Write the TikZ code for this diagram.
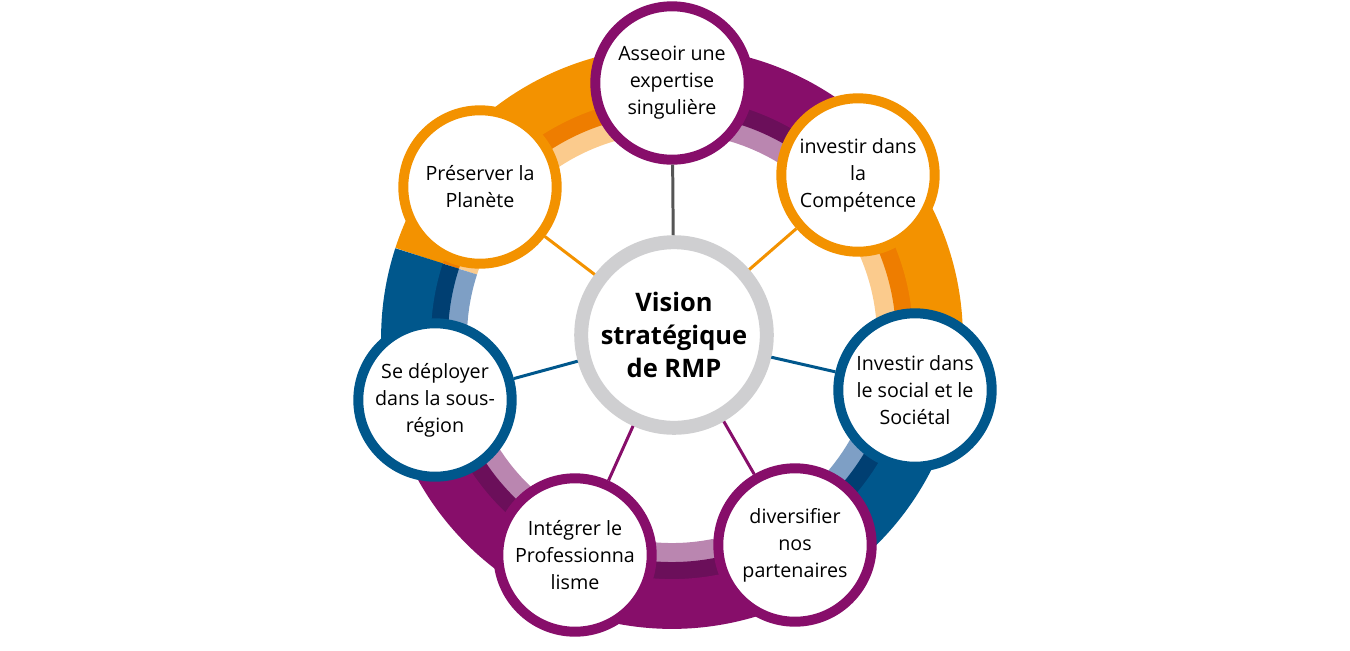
\documentclass[tikz,border=0pt]{standalone}
\usepackage{fontspec}
\setmainfont{Open Sans}
\usetikzlibrary{calc}
\begin{document}
\begin{tikzpicture}[x=0.02cm,y=0.02cm,
  sat/.style={circle,draw=#1,line width=10*0.567pt,fill=white,minimum size=154*0.567pt,inner sep=0pt,align=center,font=\fontsize{11.2}{15.4}\selectfont},
  link/.style={draw=#1,line width=3*0.567pt}]
\definecolor{oM}{HTML}{F39200}\definecolor{oD}{HTML}{EE7D00}\definecolor{oL}{HTML}{FBCB8D}
\definecolor{pM}{HTML}{870E6A}\definecolor{pD}{HTML}{6B0F5A}\definecolor{pL}{HTML}{BA86B0}
\definecolor{bM}{HTML}{00578C}\definecolor{bD}{HTML}{003F72}\definecolor{bL}{HTML}{7E9FC5}
\definecolor{gR}{HTML}{CFCFD1}\definecolor{gL}{HTML}{555555}
\useasboundingbox (0,0) rectangle (1350,-650);
\coordinate (rc) at (672,-338);
\foreach \a/\b/\c in {40/90/p,90/162/o,162/205/b,205/300/p,300/355/b,355/400/o}{
  \draw[\c L,line width=20*0.567pt] ($(rc)+(\a:215)$) arc[start angle=\a,end angle=\b,radius=215];
  \draw[\c D,line width=18*0.567pt] ($(rc)+(\a:233)$) arc[start angle=\a,end angle=\b,radius=233];
  \draw[\c M,line width=50*0.567pt] ($(rc)+(\a:266)$) arc[start angle=\a,end angle=\b,radius=266];
}
\node[circle,draw=gR,line width=14*0.567pt,fill=white,minimum size=186*0.567pt,align=center,font=\bfseries\fontsize{14.5}{18.8}\selectfont] (c) at (674,-335) {Vision\\stratégique\\de RMP};
\node[sat=pM] (t) at (672,-83) {Asseoir une\\expertise\\singulière};
\node[sat=oM] (ur) at (858,-175) {investir dans\\la\\Compétence};
\node[sat=bM] (r) at (915,-390) {Investir dans\\le social et le\\Sociétal};
\node[sat=pM] (lr) at (795,-545) {diversifier\\nos\\partenaires};
\node[sat=pM] (ll) at (575,-555) {Intégrer le\\Professionna\\lisme};
\node[sat=bM] (l) at (435,-400) {Se déployer\\dans la sous-\\région};
\node[sat=oM] (ul) at (480,-187) {Préserver la\\Planète};
\path[link=gL] (c) -- (t);
\path[link=oM] (c) -- (ur);
\path[link=oM] (c) -- (ul);
\path[link=bM] (c) -- (r);
\path[link=bM] (c) -- (l);
\path[link=pM] (c) -- (lr);
\path[link=pM] (c) -- (ll);
\end{tikzpicture}
\end{document}
